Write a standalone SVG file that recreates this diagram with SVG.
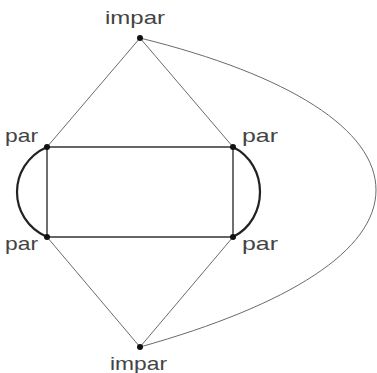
<svg xmlns="http://www.w3.org/2000/svg" width="377" height="373" viewBox="0 0 377 373">
<style>
.lbl{font-family:"Liberation Sans",Arial,sans-serif;font-size:19px;fill:#444}
.thin{stroke:#6a6a6a;stroke-width:1;fill:none}
.edge{stroke:#333;stroke-width:1.4;fill:none}
.arc{stroke:#222;stroke-width:2.2;fill:none}
.dot{fill:#111}
</style>
<rect width="377" height="373" fill="#fff"/>
<g id="connectors">
<path class="thin" d="M140,38 L47,147 M140,38 L233,147 M140,347 L47,237 M140,347 L233,237"/>
<path class="edge" d="M47,147 L233,147 L233,237 L47,237 Z"/>
<path class="arc" d="M47,147 C7,165 7,219 47,237"/>
<path class="arc" d="M233,147 C269,165 269,219 233,237"/>
<path class="thin" d="M140,38 C290,75 376,130 376,190 C376,250 290,305 140,347"/>
</g>
<g id="n-top"><circle class="dot" cx="140" cy="38" r="3"/><text class="lbl" x="105" y="24" textLength="60" lengthAdjust="spacingAndGlyphs">impar</text></g>
<g id="n-lt"><circle class="dot" cx="47" cy="147" r="3"/><text class="lbl" x="5" y="142" textLength="33" lengthAdjust="spacingAndGlyphs">par</text></g>
<g id="n-rt"><circle class="dot" cx="233" cy="147" r="3"/><text class="lbl" x="242" y="142" textLength="36" lengthAdjust="spacingAndGlyphs">par</text></g>
<g id="n-lb"><circle class="dot" cx="47" cy="237" r="3"/><text class="lbl" x="5" y="250" textLength="33" lengthAdjust="spacingAndGlyphs">par</text></g>
<g id="n-rb"><circle class="dot" cx="233" cy="237" r="3"/><text class="lbl" x="242" y="250" textLength="36" lengthAdjust="spacingAndGlyphs">par</text></g>
<g id="n-bot"><circle class="dot" cx="140" cy="347" r="3"/><text class="lbl" x="110" y="370" textLength="57" lengthAdjust="spacingAndGlyphs">impar</text></g>
</svg>
